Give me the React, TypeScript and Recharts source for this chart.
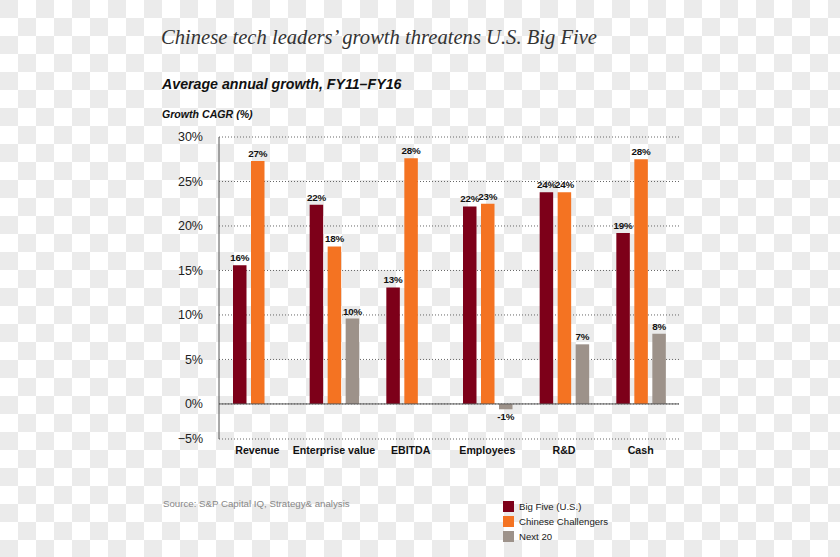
import React from 'react';
import { BarChart, Bar, XAxis, YAxis, CartesianGrid, ReferenceLine, LabelList } from 'recharts';

const categories = ['Revenue', 'Enterprise value', 'EBITDA', 'Employees', 'R&D', 'Cash'];
const bigFive = [15.6, 22.4, 13.1, 22.2, 23.8, 19.2];
const chineseChallengers = [27.3, 17.7, 27.6, 22.5, 23.8, 27.5];
const next20 = [0, 9.6, 0, -0.6, 6.7, 7.9];
// the bottom tick sits closer to zero than a true -5 would in the original
const yTicks = [-3.94, 0, 5, 10, 15, 20, 25, 30];

const series = [
  { key: 'bigFive', name: 'Big Five (U.S.)', color: '#7d0019' },
  { key: 'chinese', name: 'Chinese Challengers', color: '#f47322' },
  { key: 'next20', name: 'Next 20', color: '#9d928a' },
];

const data = categories.map((name, i) => ({
  name,
  bigFive: bigFive[i],
  chinese: chineseChallengers[i],
  next20: next20[i],
}));

const sans = '"Liberation Sans", Arial, Helvetica, sans-serif';
const fmtLabel = (v: any) => `${Math.round(Number(v))}%`;
const fmtTick = (v: number) => (v < 0 ? '\u22125%' : `${v}%`);

const App: React.FC = () => {
  return (
    <div
      style={{
        position: 'absolute',
        left: 0,
        top: 0,
        width: 840,
        height: 557,
        overflow: 'hidden',
        backgroundColor: '#ffffff',
        backgroundImage:
          'linear-gradient(45deg, #ebebeb 25%, transparent 25%, transparent 75%, #ebebeb 75%), linear-gradient(45deg, #ebebeb 25%, transparent 25%, transparent 75%, #ebebeb 75%)',
        backgroundSize: '36px 36px',
        backgroundPosition: '18px 0, 0 18px',
        fontFamily: sans,
      }}
    >
      <div
        style={{
          position: 'absolute',
          left: 161,
          top: 26,
          fontFamily: '"Liberation Serif", "DejaVu Serif", serif',
          fontStyle: 'italic',
          fontSize: 20.6,
          color: '#333',
          whiteSpace: 'nowrap',
        }}
      >
        Chinese tech leaders’ growth threatens U.S. Big Five
      </div>
      <div
        style={{
          position: 'absolute',
          left: 162,
          top: 76,
          fontWeight: 'bold',
          fontStyle: 'italic',
          fontSize: 14.2,
          color: '#111',
          whiteSpace: 'nowrap',
        }}
      >
        Average annual growth, FY11–FY16
      </div>
      <div
        style={{
          position: 'absolute',
          left: 162,
          top: 108,
          fontWeight: 'bold',
          fontStyle: 'italic',
          fontSize: 10.6,
          color: '#111',
          whiteSpace: 'nowrap',
        }}
      >
        Growth CAGR (%)
      </div>

      <div style={{ position: 'absolute', left: 0, top: 0 }}>
        <BarChart
          width={840}
          height={557}
          data={data}
          margin={{ top: 137, right: 161, left: 0, bottom: 88 }}
          barSize={13.5}
          barGap={4.5}
        >
          <CartesianGrid vertical={false} stroke="#666" strokeDasharray="1 2" />
          <XAxis
            dataKey="name"
            axisLine={false}
            tickLine={false}
            tickSize={0}
            tickMargin={7}
            interval={0}
            height={30}
            tick={{ fontSize: 10.6, fontWeight: 'bold', fill: '#111', fontFamily: sans }}
          />
          <YAxis
            width={219}
            domain={[-3.94, 30]}
            ticks={yTicks}
            tickFormatter={fmtTick}
            axisLine={{ stroke: '#555' }}
            tickLine={false}
            tickMargin={10}
            tick={{ fontSize: 12.5, fill: '#222', fontFamily: sans }}
          />
          <ReferenceLine y={0} stroke="#555" strokeWidth={1} />
          {series.map((s) => (
            <Bar key={s.key} dataKey={s.key} name={s.name} fill={s.color} isAnimationActive={false}>
              <LabelList
                dataKey={s.key}
                position="top"
                offset={4}
                formatter={fmtLabel}
                style={{ fontSize: 9.8, fontWeight: 'bold', fill: '#111', fontFamily: sans, letterSpacing: -0.2 }}
              />
            </Bar>
          ))}
        </BarChart>
      </div>

      <div
        style={{
          position: 'absolute',
          left: 163,
          top: 498,
          fontSize: 9.7,
          color: '#888',
          whiteSpace: 'nowrap',
        }}
      >
        Source: S&amp;P Capital IQ, Strategy&amp; analysis
      </div>

      <div style={{ position: 'absolute', left: 503, top: 499 }}>
        {series.map((s) => (
          <div key={s.key} style={{ display: 'flex', alignItems: 'center', height: 15 }}>
            <div style={{ width: 11, height: 11, background: s.color, marginRight: 5 }} />
            <span style={{ fontSize: 9.6, color: '#222', whiteSpace: 'nowrap' }}>{s.name}</span>
          </div>
        ))}
      </div>
    </div>
  );
};

export default App;
